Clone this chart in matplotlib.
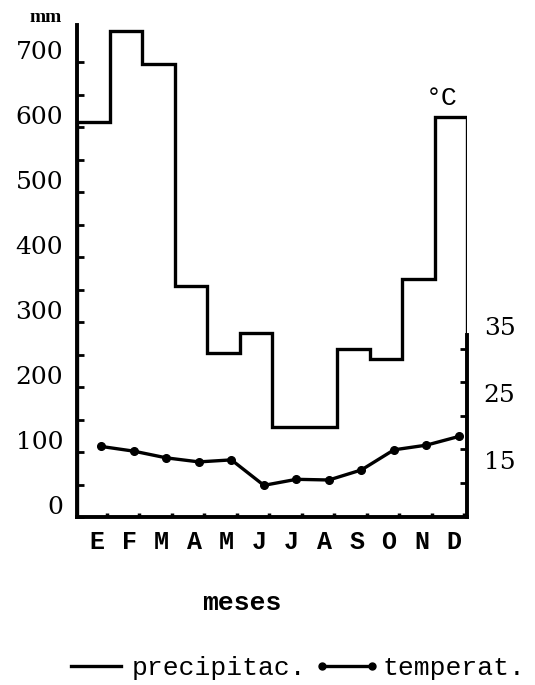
import matplotlib.pyplot as plt
import matplotlib.transforms as mtransforms
import numpy as np

# climograma: precipitacion mensual (mm) y temperatura media (°C)
meses = ['E', 'F', 'M', 'A', 'M', 'J', 'J', 'A', 'S', 'O', 'N', 'D']
precipitacion = [608, 748, 697, 355, 252, 283, 138, 138, 258, 243, 366, 615]
temperatura = [15.4, 14.7, 13.7, 13.1, 13.4, 9.6, 10.5, 10.4, 11.9, 14.9, 15.6, 16.9]
mm_ticks = [0, 100, 200, 300, 400, 500, 600, 700]
grados_ticks = [15, 25, 35]

serif = 'DejaVu Serif'
mono = 'Liberation Mono'
lw = 2.4

fig = plt.figure(figsize=(5.35, 6.85), dpi=100)
ax = fig.add_axes([0.144, 0.245, 0.729, 0.7185])
ax2 = ax.twinx()

x = np.arange(len(meses))
ax.stairs(precipitacion, np.arange(len(meses) + 1), baseline=0,
          color='black', lw=lw)
ax2.plot(x + 0.75, temperatura, color='black', lw=lw, marker='o', ms=5.5)

ax.set_xlim(0, 12)
ax.set_ylim(0, 757)
ax2.set_ylim(4.85, 78.3)

for s in ['top', 'right']:
    ax.spines[s].set_visible(False)
for s in ['top', 'left', 'bottom']:
    ax2.spines[s].set_visible(False)
for s in ['left', 'bottom']:
    ax.spines[s].set_linewidth(2.8)
ax2.spines['right'].set_linewidth(2.8)
ax2.spines['right'].set_bounds(4.85, 32)

# eje izquierdo (mm)
ax.set_yticks(mm_ticks)
ax.set_yticklabels([str(v) for v in mm_ticks], fontfamily=serif, fontsize=18)
ax.set_yticks(np.arange(50, 700, 100), minor=True)
ax.tick_params(axis='y', which='both', direction='in', length=5, width=2, pad=10)
off_up = mtransforms.ScaledTranslation(0, 0.12, fig.dpi_scale_trans)
for lab in ax.get_yticklabels():
    lab.set_transform(lab.get_transform() + off_up)

# eje de meses
ax.set_xticks(x + 0.6)
ax.set_xticklabels(meses, fontfamily=mono, fontsize=18, fontweight='bold')
ax.set_xticks(x + 0.92, minor=True)
ax.tick_params(axis='x', which='major', length=0, pad=9)
ax.tick_params(axis='x', which='minor', direction='in', length=3, width=2.5)

# eje derecho (°C)
ax2.yaxis.remove_overlapping_locs = False
ax2.set_yticks(grados_ticks)
ax2.set_yticklabels([str(v) for v in grados_ticks], fontfamily=serif, fontsize=18)
ax2.set_yticks([10, 15, 20, 25, 30], minor=True)
ax2.tick_params(axis='y', which='major', length=0, pad=12)
ax2.tick_params(axis='y', which='minor', direction='in', length=5, width=2)
off_down = mtransforms.ScaledTranslation(0, -0.11, fig.dpi_scale_trans)
for lab in ax2.get_yticklabels():
    lab.set_transform(lab.get_transform() + off_down)

fig.text(0.085, 0.975, 'mm', fontfamily='Liberation Serif', fontweight='bold',
         fontsize=14, ha='center', va='center')
fig.text(0.825, 0.857, '°C', fontfamily=mono, fontsize=19, ha='center', va='center')
fig.text(0.452, 0.12, 'meses', fontfamily=mono, fontsize=19, fontweight='bold',
         ha='center', va='center')

h1, = ax.plot([], [], color='black', lw=lw)
h2, = ax.plot([], [], color='black', lw=lw, marker='o', ms=5)
fig.legend([h1, h2], ['precipitac.', 'temperat.'], loc='center',
           bbox_to_anchor=(0.55, 0.025), ncol=2, numpoints=2, frameon=False,
           handlelength=2.5, handletextpad=0.1, columnspacing=0.3,
           borderaxespad=0, prop={'family': mono, 'size': 19})

fig.savefig('out.png', dpi=100)
